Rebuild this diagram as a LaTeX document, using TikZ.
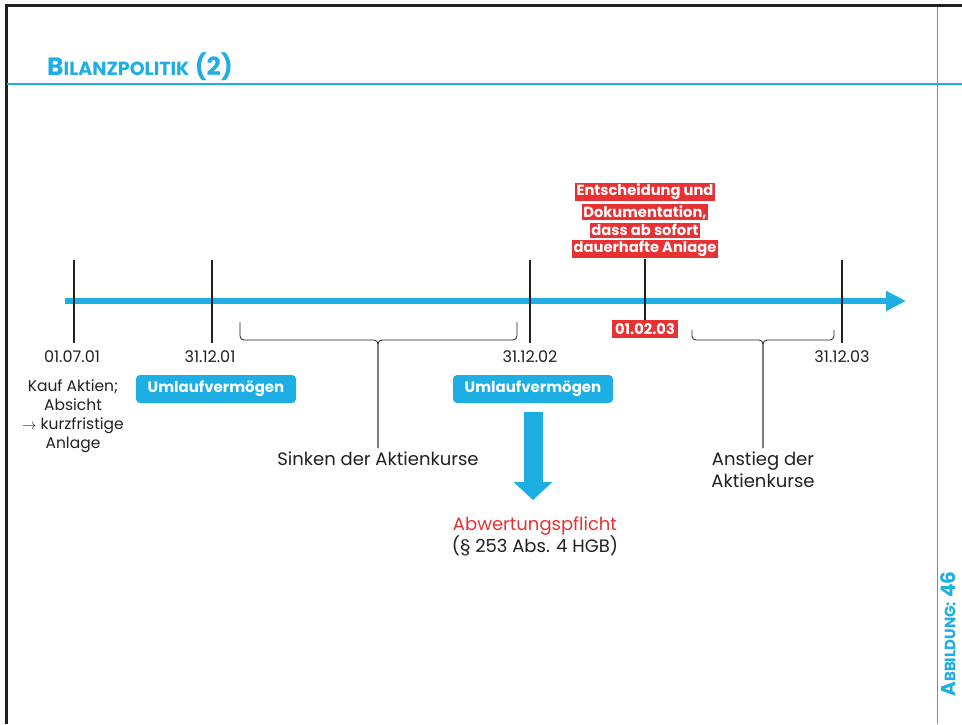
\documentclass[tikz,border=0pt]{standalone}
\usepackage{fontspec}
\setmainfont{Poppins}
\usepackage{tikz}
\usetikzlibrary{positioning, arrows.meta}
\definecolor{mylightblue}{RGB}{29, 174, 228}
\definecolor{myred}{RGB}{232, 49, 51}
\definecolor{mytext}{RGB}{35, 31, 32}

\begin{document}
\begin{tikzpicture}[x = 1pt, y = -1pt, text = mytext,
  date/.style={font = \fontsize{16}{18}\selectfont},
  note/.style={font = \fontsize{18}{22}\selectfont, align = center},
  umlauf/.style={fill = mylightblue, text = white, rounded corners = 4pt, minimum width = 160pt, minimum height = 28pt, font = \bfseries\fontsize{15}{17}\selectfont},
  redline/.style={fill = myred, text = white, inner sep = 1.5pt, font = \bfseries\fontsize{14.7}{16}\selectfont},
  tick/.style={draw = mytext, line width = 1.2pt},
  brace/.style={draw = mytext, line width = 0.8pt, rounded corners = 4pt}]
  \useasboundingbox (0, 0) rectangle (962, 724);

  % frame
  \draw [line width = 3pt, mytext] (6, 724) -- (6, 5.5) -- (962, 5.5);
  \draw [mylightblue, line width = 1pt] (937, 7) -- (937, 724);
  \draw [mylightblue, line width = 1.2pt] (7, 84) -- (962, 84);
  \node (title) [anchor = base west, text = mylightblue, font = \bfseries, inner sep = 0pt] at (47, 75)
    {{\fontsize{25}{27}\selectfont B}{\fontsize{19}{21}\selectfont ILANZPOLITIK}{\fontsize{25}{27}\selectfont\ (2)}};
  \node (figno) [rotate = 90, text = mylightblue, font = \bfseries, inner sep = 0pt] at (948, 634)
    {{\fontsize{20}{22}\selectfont A}{\fontsize{15}{17}\selectfont BBILDUNG:}{\fontsize{20}{22}\selectfont\ 46}};

  % timeline
  \coordinate (start) at (65, 301);
  \coordinate (end) at (906, 301);
  \draw [mylightblue, line width = 6pt, -{Triangle[length = 20pt, width = 19pt]}] (start) -- (end);

  % nodes
  \node (d1) [date] at (72, 357) {01.07.01};
  \node (d2) [date] at (210, 357) {31.12.01};
  \node (d3) [date] at (530, 357) {31.12.02};
  \node (d4) [date] at (842, 357) {31.12.03};

  \node (e1) [redline] at (645, 192) {Entscheidung und};
  \node (e2) [redline, below = 2pt of e1] {Dokumentation,};
  \node (e3) [redline, below = 2pt of e2] {dass ab sofort};
  \node (e4) [redline, below = 2pt of e3] {dauerhafte Anlage};
  \node (feb) [redline, inner sep = 3pt] at (645, 329) {01.02.03};

  \node (u1) [umlauf] at (216, 389) {Umlaufvermögen};
  \node (u2) [umlauf] at (533, 389) {Umlaufvermögen};

  \node (kauf) [date, align = center, font = \fontsize{15.5}{19}\selectfont] at (73, 416)
    {Kauf Aktien;\\ Absicht\\ $\rightarrow$ kurzfristige\\ Anlage};

  \node (sinken) [note, anchor = north] at (378, 448) {Sinken der Aktienkurse};
  \node (anstieg) [note, anchor = north] at (763, 448) {Anstieg der\\ Aktienkurse};

  \node (abw) [note, anchor = north] at (535, 513) {\textcolor{myred}{Abwertungspflicht}\\ (§ 253 Abs. 4 HGB)};

  % edges
  \draw [tick] (74, 260) -- (74, 343);
  \draw [tick] (212, 260) -- (212, 343);
  \draw [tick] (530, 260) -- (530, 343);
  \draw [tick] (842, 260) -- (842, 343);
  \draw [tick] (e4.south) -- (feb.north);

  \draw [brace] (240, 322) -- (240, 340) -- (378, 340) -- (sinken.north);
  \draw [brace] (517, 322) -- (517, 340) -- (378, 340) -- (sinken.north);
  \draw [brace] (692, 330) -- (692, 340) -- (763, 340) -- (anstieg.north);
  \draw [brace] (834, 330) -- (834, 340) -- (763, 340) -- (anstieg.north);

  \draw [mylightblue, line width = 19pt, -{Triangle[length = 18pt, width = 38pt]}, shorten <= 9pt, shorten >= 13pt] (u2.south) -- (u2.south |- abw.north);
\end{tikzpicture}
\end{document}
